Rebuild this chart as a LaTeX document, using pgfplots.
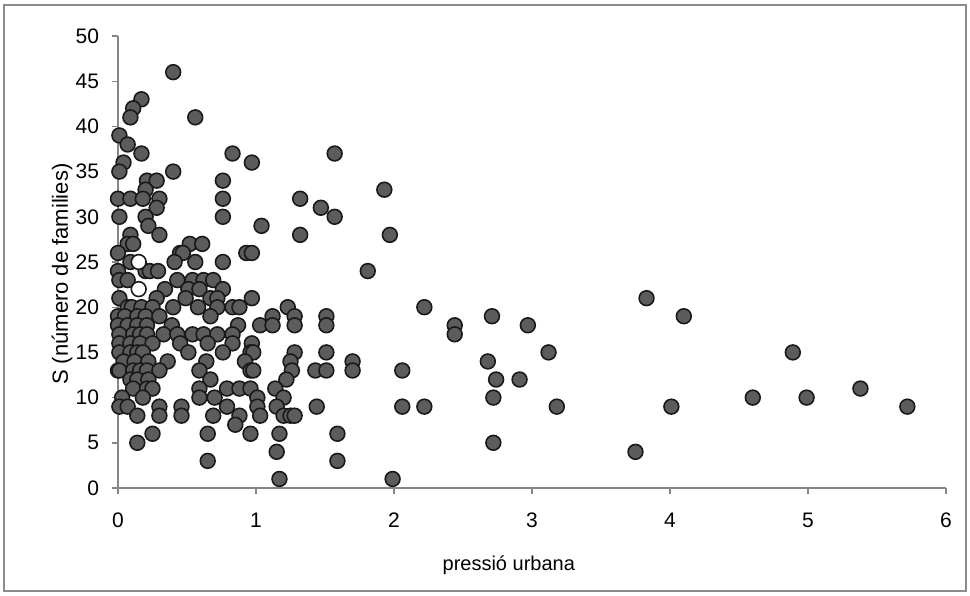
\documentclass[border=0pt]{standalone}
\usepackage{pgfplots}
\pgfplotsset{compat=1.18}
\usepackage{fontspec}
\setmainfont{Liberation Sans}
\definecolor{axisgray}{RGB}{134,134,134}
\definecolor{framegray}{RGB}{140,140,140}
\definecolor{dotfill}{RGB}{92,92,92}
\definecolor{dotedge}{RGB}{25,25,25}
\begin{document}
\begin{tikzpicture}
\useasboundingbox (-59pt,-53.5pt) rectangle (426pt,244pt);
\draw[framegray, line width=1pt] (-57pt,-51.5pt) rectangle (424pt,241.5pt);
\begin{axis}[
  scale only axis, width=414pt, height=226pt,
  xmin=0, xmax=6, ymin=0, ymax=50,
  axis x line=bottom, axis y line=left,
  axis line style={-, draw=axisgray, line width=0.7pt},
  xtick={0,1,...,6}, ytick={0,5,...,50},
  tick align=outside, major tick length=3pt,
  tick style={draw=axisgray, line width=0.7pt},
  /pgf/number format/assume math mode=true,
  ticklabel style={font=\fontsize{10.5}{11}\selectfont},
  xticklabel style={yshift=-6pt},
  yticklabel style={xshift=-3pt},
  xlabel={pressió urbana}, ylabel={S (número de families)},
  xlabel style={font=\fontsize{10}{11}\selectfont, at={(axis description cs:0.472,-0.170)}, anchor=center},
  ylabel style={font=\fontsize{11}{12}\selectfont, at={(axis description cs:-0.0676,0.473)}, anchor=center},
  clip=false,
]
\addplot[only marks, mark=*, mark size=3.7pt,
    mark options={fill=dotfill, draw=dotedge, line width=0.8pt}] coordinates {
(0.40,46) (0.17,43) (0.11,42) (0.09,41) (0.56,41) (0.01,39) (0.07,38)
(0.17,37) (0.83,37) (1.57,37) (0.04,36) (0.97,36) (0.01,35) (0.40,35)
(0.21,34) (0.28,34) (0.76,34) (0.20,33) (1.93,33)
(0.00,32) (0.09,32) (0.18,32) (0.30,32) (0.76,32) (1.32,32)
(0.28,31) (1.47,31) (0.01,30) (0.20,30) (0.76,30) (1.57,30)
(0.22,29) (1.04,29) (0.09,28) (0.30,28) (1.32,28) (1.97,28)
(0.07,27) (0.11,27) (0.52,27) (0.61,27)
(0.00,26) (0.45,26) (0.47,26) (0.93,26) (0.97,26)
(0.09,25) (0.41,25) (0.56,25) (0.76,25)
(0.00,24) (0.20,24) (0.23,24) (0.29,24) (1.81,24)
(0.01,23) (0.07,23) (0.43,23) (0.54,23) (0.62,23) (0.69,23)
(0.34,22) (0.51,22) (0.59,22) (0.76,22)
(0.01,21) (0.28,21) (0.49,21) (0.67,21) (0.72,21) (0.97,21) (3.83,21)
(0.07,20) (0.10,20) (0.17,20) (0.25,20) (0.40,20) (0.58,20) (0.72,20) (0.83,20) (0.88,20) (1.23,20) (2.22,20)
(0.00,19) (0.05,19) (0.14,19) (0.20,19) (0.30,19) (0.67,19) (1.12,19) (1.28,19) (1.51,19) (2.71,19) (4.10,19)
(0.00,18) (0.07,18) (0.14,18) (0.21,18) (0.39,18) (0.87,18) (1.03,18) (1.12,18) (1.28,18) (1.51,18) (2.44,18) (2.97,18)
(0.01,17) (0.11,17) (0.16,17) (0.21,17) (0.33,17) (0.43,17) (0.54,17) (0.62,17) (0.72,17) (0.83,17) (2.44,17)
(0.01,16) (0.09,16) (0.16,16) (0.25,16) (0.45,16) (0.65,16) (0.83,16) (0.97,16)
(0.01,15) (0.09,15) (0.14,15) (0.18,15) (0.51,15) (0.76,15) (0.96,15) (0.98,15) (1.28,15) (1.51,15) (3.12,15) (4.89,15)
(0.04,14) (0.12,14) (0.22,14) (0.36,14) (0.64,14) (0.92,14) (1.25,14) (1.70,14) (2.68,14)
(0.00,13) (0.01,13) (0.11,13) (0.16,13) (0.21,13) (0.30,13) (0.59,13) (0.96,13) (0.98,13) (1.26,13) (1.43,13) (1.51,13) (1.70,13) (2.06,13)
(0.09,12) (0.14,12) (0.22,12) (0.67,12) (1.22,12) (2.74,12) (2.91,12)
(0.11,11) (0.21,11) (0.25,11) (0.59,11) (0.79,11) (0.88,11) (0.96,11) (1.14,11) (5.38,11)
(0.03,10) (0.18,10) (0.59,10) (0.70,10) (1.01,10) (1.20,10) (2.72,10) (4.60,10) (4.99,10)
(0.01,9) (0.07,9) (0.30,9) (0.46,9) (0.79,9) (1.01,9) (1.15,9) (1.44,9) (2.06,9) (2.22,9) (3.18,9) (4.01,9) (5.72,9)
(0.14,8) (0.30,8) (0.46,8) (0.69,8) (0.88,8) (1.03,8) (1.20,8) (1.25,8) (1.28,8)
(0.85,7) (0.25,6) (0.65,6) (0.96,6) (1.17,6) (1.59,6)
(0.14,5) (2.72,5) (1.15,4) (3.75,4) (0.65,3) (1.59,3) (1.17,1) (1.99,1)
};
\addplot[only marks, mark=*, mark size=3.7pt,
    mark options={fill=white, draw=dotedge, line width=0.8pt}] coordinates {(0.15,25) (0.15,22)};
\end{axis}
\end{tikzpicture}
\end{document}
